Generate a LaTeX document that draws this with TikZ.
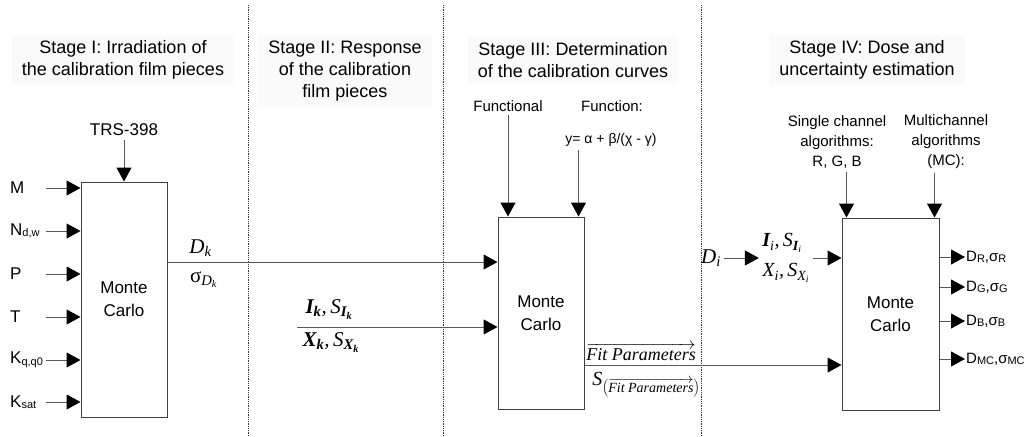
\documentclass[tikz,border=0pt]{standalone}
\usepackage{fontspec}
\setmainfont{Liberation Sans}
\newfontfamily\timesfont{Liberation Serif}
\usetikzlibrary{arrows.meta,positioning}

\newcommand{\mi}[1]{{\timesfont\itshape #1}}
\newcommand{\bmi}[1]{{\timesfont\itshape\bfseries #1}}
\newcommand{\lo}[1]{\raisebox{-1.5pt}{\fontsize{11}{11}\selectfont #1}}

\tikzset{
  stagetitle/.style={fill=black!2, align=center, inner xsep=10pt, inner ysep=6pt, font=\fontsize{18}{22}\selectfont},
  mcbox/.style={draw=black!75, line width=1pt, align=center, font=\fontsize{17}{23}\selectfont},
  inlbl/.style={anchor=west, text width=36pt, align=left, inner sep=0pt, font=\fontsize{17}{20}\selectfont},
  outlbl/.style={anchor=west, inner sep=1pt, font=\fontsize{15}{18}\selectfont},
  toplbl/.style={align=center, font=\fontsize{15}{20}\selectfont},
  mlbl/.style={font=\fontsize{21}{24}\selectfont\timesfont},
  conn/.style={->, draw=black!65, line width=1pt},
  sep/.style={densely dotted, black!80, line width=0.8pt}
}

\begin{document}
\begin{tikzpicture}[x=1pt, y=-1pt, >={Triangle[length=14pt,width=15pt,color=black]}]
\useasboundingbox (0,0) rectangle (1024,436);

% stage separators
\draw[sep] (248,5) -- (248,436);
\draw[sep] (443,5) -- (443,436);
\draw[sep] (701,5) -- (701,436);

% stage titles
\node[stagetitle] (titleI) at (123,60) {Stage I: Irradiation of\\the calibration film pieces};
\node[stagetitle] (titleII) at (345,71) {Stage II: Response\\of the calibration\\film pieces};
\node[stagetitle] (titleIII) at (573,60) {Stage III: Determination\\of the calibration curves};
\node[stagetitle] (titleIV) at (867,60) {Stage IV: Dose and\\uncertainty estimation};

% Monte Carlo boxes
\node[mcbox, minimum width=86pt, minimum height=235pt] (mc1) at (124,299.5) {Monte\\Carlo};
\node[mcbox, minimum width=86pt, minimum height=192pt] (mc3) at (541,313) {Monte\\Carlo};
\node[mcbox, minimum width=97pt, minimum height=192pt] (mc4) at (890.5,314) {Monte\\Carlo};

% stage I inputs
\node[font=\fontsize{17}{20}\selectfont] (trs) at (124,130) {TRS-398};
\draw[conn] (trs.south) -- (trs |- mc1.north);
\node[inlbl] (inM) at (10,188) {M};
\node[inlbl] (inN) at (10,231) {N\lo{d,w}};
\node[inlbl] (inP) at (10,274) {P};
\node[inlbl] (inT) at (10,317) {T};
\node[inlbl] (inK) at (10,360) {K\lo{q,q0}};
\node[inlbl] (inKs) at (10,402) {K\lo{sat}};
\draw[conn] (inM.east) -- (inM -| mc1.west);
\draw[conn] (inN.east) -- (inN -| mc1.west);
\draw[conn] (inP.east) -- (inP -| mc1.west);
\draw[conn] (inT.east) -- (inT -| mc1.west);
\draw[conn] (inK.east) -- (inK -| mc1.west);
\draw[conn] (inKs.east) -- (inKs -| mc1.west);

% dose into stage III
\coordinate (dkout) at ([yshift=37.5pt]mc1.east);
\draw[conn] (dkout) -- (dkout -| mc3.west)
  node[pos=0.1, above=2pt, mlbl] (dk) {\mi{D}\textsubscript{\mi{k}}}
  node[pos=0.11, below=6pt, mlbl] (sdk) {σ\textsubscript{\mi{D}\textsubscript{\mi{k}}}};

% film response
\coordinate (ikin) at (297,327);
\draw[conn] (ikin) -- (ikin -| mc3.west)
  node[pos=0.16, above=4pt, mlbl] (ik) {\bmi{I}\textsubscript{\bmi{k}}\mi{,}\,\mi{S}\textsubscript{\bmi{I}\textsubscript{\bmi{k}}}}
  node[pos=0.17, below=2pt, mlbl] (xk) {\bmi{X}\textsubscript{\bmi{k}}\mi{,}\,\mi{S}\textsubscript{\bmi{X}\textsubscript{\bmi{k}}}};

% calibration function
\node[toplbl] (fnl) at (508,106) {Functional};
\node[toplbl] (fnc) at (612,106) {Function:};
\node[toplbl, font=\fontsize{14}{16}\selectfont] (fml) at (611,140) {y= α + β/(χ - γ)};
\coordinate (ftop) at ([xshift=-6pt]mc3.north east);
\draw[conn] (fnl.south) -- (fnl |- mc3.north);
\draw[conn] (fml.south -| ftop) -- (ftop);

% fit parameters into stage IV
\coordinate (fitout) at ([yshift=-52pt]mc3.east);
\draw[conn] (fitout) -- (fitout -| mc4.west)
  node[pos=0.22, above=3pt, inner sep=1pt, mlbl, font=\fontsize{18}{20}\selectfont\timesfont] (fit) {$\overrightarrow{\hbox{\mi{Fit Parameters}}}$}
  node[pos=0.24, below=6pt, inner sep=1pt, mlbl, font=\fontsize{20}{22}\selectfont\timesfont] (sfit) {\mi{S}\textsubscript{$\left(\overrightarrow{\hbox{\mi{Fit Parameters}}}\right)$}};

% stage IV inputs
\node[toplbl] (sgl) at (837,142) {Single channel\\algorithms:\\R, G, B};
\node[toplbl] (mlt) at (946,142) {Multichannel\\algorithms\\(MC):};
\coordinate (stop) at ([xshift=5pt]mc4.north west);
\coordinate (mtop) at ([xshift=-5pt]mc4.north east);
\draw[conn] (sgl.south -| stop) -- (stop);
\draw[conn] (mlt.south -| mtop) -- (mtop);
\node[mlbl] (di) at (711,258) {\mi{D}\textsubscript{\mi{i}}};
\node[mlbl, align=left, font=\fontsize{20}{30}\selectfont\timesfont] (ixi) at (786,258) {\bmi{I}\textsubscript{\mi{i}}\mi{,}\,\mi{S}\textsubscript{\bmi{I}\textsubscript{\mi{i}}}\\\mi{X}\textsubscript{\mi{i}}\mi{,}\,\mi{S}\textsubscript{\mi{X}\textsubscript{\mi{i}}}};
\draw[conn] (di) -- (ixi);
\draw[conn] (ixi) -- (ixi -| mc4.west);

% stage IV outputs
\node[outlbl] (outR) at (965,257) {D\lo{R},σ\lo{R}};
\node[outlbl] (outG) at (965,287) {D\lo{G},σ\lo{G}};
\node[outlbl] (outB) at (965,321) {D\lo{B},σ\lo{B}};
\node[outlbl] (outMC) at (965,359) {D\lo{MC},σ\lo{MC}};
\draw[conn] (outR -| mc4.east) -- (outR.west);
\draw[conn] (outG -| mc4.east) -- (outG.west);
\draw[conn] (outB -| mc4.east) -- (outB.west);
\draw[conn] (outMC -| mc4.east) -- (outMC.west);
\end{tikzpicture}
\end{document}
